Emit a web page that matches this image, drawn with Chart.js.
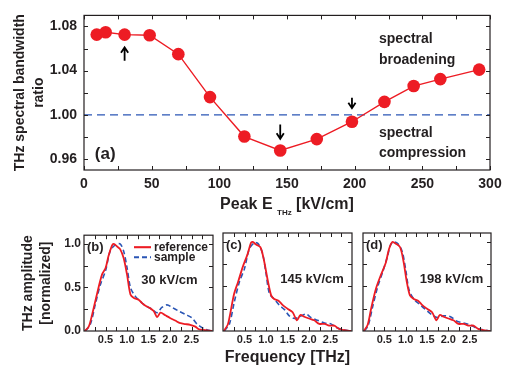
<!DOCTYPE html>
<html>
<head>
<meta charset="utf-8">
<script src="https://cdn.jsdelivr.net/npm/chart.js@4.4.1/dist/chart.umd.min.js"></script>
<style>
  html, body { margin: 0; padding: 0; background: #fff; }
  #wrap { position: relative; width: 510px; height: 368px; overflow: hidden; }
  canvas { position: absolute; }
</style>
</head>
<body>
<div id="wrap">
  <canvas id="ratioChart" width="510" height="222" style="left:0;top:0"></canvas>
  <canvas id="panelB" width="215" height="143" style="left:0;top:225px"></canvas>
  <canvas id="panelC" width="140" height="143" style="left:215px;top:225px"></canvas>
  <canvas id="panelD" width="155" height="143" style="left:355px;top:225px"></canvas>
</div>
<script>
// ---- panel (a): bandwidth ratio vs peak field ----
const fieldKV = [9.4, 16, 30, 48.5, 69.7, 93.1, 118.5, 145, 172, 198, 222, 243.6, 263.3, 292];
const bwRatio = [1.0726, 1.0748, 1.0726, 1.072, 1.0549, 1.016, 0.9803, 0.9677, 0.978, 0.9937, 1.0117, 1.026, 1.0323, 1.0409];
const unityX = [0, 300];
const unityY = 1.0;
const kvTicks = [0, 50, 100, 150, 200, 250, 300];
const kvMinor = [0, 25, 50, 75, 100, 125, 150, 175, 200, 225, 250, 275, 300];
const ratioTicks = [0.96, 1.00, 1.04, 1.08];
const ratioMinor = [0.96, 0.98, 1.00, 1.02, 1.04, 1.06, 1.08];
// arrows marking the fields shown in (b)-(d)
const arrowKV = [30, 145, 198];
const arrowTail = [1.0489, 0.9912, 1.0154];
const arrowHead = [1.0611, 0.9783, 1.0060];

// ---- panels (b)-(d): spectra ----
const refFreqB = [0.02, 0.11, 0.19, 0.30, 0.42, 0.50, 0.57, 0.65, 0.69, 0.77, 0.84, 0.92, 1.00, 1.08, 1.16, 1.27, 1.35, 1.43, 1.54, 1.62, 1.70, 1.78, 1.89, 2.00, 2.12, 2.24, 2.36, 2.47, 2.59, 2.67, 2.82, 2.98];
const refAmpB  = [0, 0.05, 0.19, 0.42, 0.65, 0.72, 0.86, 0.98, 1.0, 0.97, 0.94, 0.84, 0.65, 0.42, 0.38, 0.36, 0.32, 0.29, 0.26, 0.23, 0.16, 0.21, 0.18, 0.15, 0.12, 0.09, 0.08, 0.07, 0.05, 0.02, 0.01, 0];
const samFreqB = [0.03, 0.15, 0.26, 0.38, 0.50, 0.61, 0.73, 0.84, 0.92, 1.00, 1.08, 1.19, 1.31, 1.43, 1.58, 1.70, 1.81, 1.93, 2.05, 2.20, 2.36, 2.51, 2.63, 2.82, 2.98];
const samAmpB  = [0, 0.08, 0.30, 0.53, 0.69, 0.92, 0.99, 1.0, 0.92, 0.73, 0.50, 0.40, 0.34, 0.29, 0.25, 0.21, 0.27, 0.30, 0.27, 0.23, 0.19, 0.15, 0.08, 0.02, 0];

const refFreqC = [0.02, 0.11, 0.15, 0.26, 0.35, 0.46, 0.57, 0.65, 0.69, 0.77, 0.87, 0.95, 1.04, 1.12, 1.19, 1.29, 1.39, 1.50, 1.62, 1.72, 1.80, 1.89, 2.00, 2.12, 2.24, 2.36, 2.47, 2.59, 2.71, 2.98];
const refAmpC  = [0, 0.07, 0.15, 0.42, 0.55, 0.72, 0.86, 0.99, 1.0, 0.97, 0.94, 0.80, 0.57, 0.40, 0.36, 0.34, 0.29, 0.25, 0.21, 0.12, 0.18, 0.16, 0.14, 0.12, 0.08, 0.08, 0.06, 0.06, 0.02, 0];
const samFreqC = [0.03, 0.15, 0.26, 0.38, 0.50, 0.61, 0.73, 0.82, 0.92, 1.00, 1.08, 1.19, 1.31, 1.43, 1.54, 1.66, 1.78, 1.93, 2.05, 2.20, 2.36, 2.51, 2.63, 2.82, 2.98];
const samAmpC  = [0, 0.08, 0.32, 0.55, 0.70, 0.92, 0.99, 0.98, 0.87, 0.65, 0.42, 0.36, 0.29, 0.24, 0.17, 0.14, 0.16, 0.19, 0.15, 0.12, 0.09, 0.08, 0.04, 0.01, 0];

const refFreqD = [0.02, 0.11, 0.19, 0.30, 0.42, 0.53, 0.61, 0.69, 0.77, 0.87, 0.95, 1.02, 1.10, 1.19, 1.29, 1.39, 1.50, 1.62, 1.72, 1.80, 1.89, 2.00, 2.12, 2.24, 2.36, 2.47, 2.59, 2.71, 2.98];
const refAmpD  = [0, 0.07, 0.25, 0.47, 0.63, 0.76, 0.92, 1.0, 0.98, 0.94, 0.78, 0.57, 0.40, 0.36, 0.34, 0.29, 0.25, 0.21, 0.12, 0.18, 0.16, 0.14, 0.12, 0.08, 0.08, 0.06, 0.06, 0.02, 0];
const samFreqD = [0.03, 0.12, 0.22, 0.34, 0.46, 0.57, 0.65, 0.73, 0.82, 0.92, 1.00, 1.08, 1.19, 1.35, 1.47, 1.62, 1.74, 1.89, 2.05, 2.20, 2.36, 2.51, 2.67, 2.98];
const samAmpD  = [0, 0.06, 0.26, 0.49, 0.66, 0.83, 0.97, 1.0, 0.98, 0.89, 0.69, 0.46, 0.36, 0.29, 0.24, 0.18, 0.15, 0.17, 0.16, 0.11, 0.09, 0.07, 0.03, 0];

const freqTicks = [0.5, 1.0, 1.5, 2.0, 2.5];
const freqMinor = [0.25, 0.5, 0.75, 1.0, 1.25, 1.5, 1.75, 2.0, 2.25, 2.5, 2.75];
const ampTicks = [0, 0.5, 1.0];
const ampMinor = [0.25, 0.5, 0.75, 1.0];

const RED = '#ed1c24';
const BLUE = '#2b56b5';
const INK = '#231f20';
const FONT = "'Liberation Sans', Arial, Helvetica, sans-serif";

const pts = (xs, ys) => xs.map((x, i) => ({ x: x, y: ys[i] }));
const setTicks = vals => scale => { scale.ticks = vals.map(v => ({ value: v })); };

// box around the plot area with inward ticks on all four sides
const framePlugin = {
  id: 'frame',
  afterDatasetsDraw(chart, args, opts) {
    const { ctx, chartArea: a, scales: { x, y } } = chart;
    const len = 4;
    ctx.save();
    ctx.strokeStyle = INK;
    ctx.lineWidth = 1;
    ctx.beginPath();
    (opts.xTicks || []).forEach(v => {
      const px = Math.round(x.getPixelForValue(v)) + 0.5;
      ctx.moveTo(px, a.bottom); ctx.lineTo(px, a.bottom - len);
      ctx.moveTo(px, a.top); ctx.lineTo(px, a.top + len);
    });
    (opts.yTicks || []).forEach(v => {
      const py = Math.round(y.getPixelForValue(v)) + 0.5;
      ctx.moveTo(a.left, py); ctx.lineTo(a.left + len, py);
      ctx.moveTo(a.right, py); ctx.lineTo(a.right - len, py);
    });
    ctx.stroke();
    ctx.lineWidth = 1.2;
    ctx.strokeRect(a.left, a.top, a.right - a.left, a.bottom - a.top);
    ctx.restore();
  }
};

// text notes and arrows placed in data coordinates
const notesPlugin = {
  id: 'notes',
  afterDatasetsDraw(chart, args, opts) {
    const { ctx, scales: { x, y } } = chart;
    ctx.save();
    ctx.fillStyle = INK;
    ctx.textBaseline = 'middle';
    ctx.textAlign = 'left';
    (opts.texts || []).forEach(t => {
      ctx.font = 'bold ' + t.size + 'px ' + FONT;
      ctx.fillText(t.text, x.getPixelForValue(t.x), y.getPixelForValue(t.y));
    });
    const arr = opts.arrows;
    if (arr) {
      ctx.strokeStyle = '#000';
      ctx.lineWidth = 1.8;
      arr.x.forEach((v, i) => {
        const px = x.getPixelForValue(v);
        const y0 = y.getPixelForValue(arr.from[i]);
        const y1 = y.getPixelForValue(arr.to[i]);
        const dir = y1 < y0 ? 1 : -1;
        ctx.beginPath();
        ctx.moveTo(px, y0); ctx.lineTo(px, y1);
        ctx.moveTo(px - 3.6, y1 + dir * 5.5); ctx.lineTo(px, y1); ctx.lineTo(px + 3.6, y1 + dir * 5.5);
        ctx.stroke();
      });
    }
    ctx.restore();
  }
};

// x title of panel (a) with a subscript
const fieldTitlePlugin = {
  id: 'fieldTitle',
  afterDraw(chart) {
    const { ctx, chartArea: a } = chart;
    const big = 'bold 16px ' + FONT, small = 'bold 8px ' + FONT;
    const p1 = 'Peak E ', p2 = 'THz', p3 = ' [kV/cm]';
    ctx.save();
    ctx.font = big; const w1 = ctx.measureText(p1).width, w3 = ctx.measureText(p3).width;
    ctx.font = small; const w2 = ctx.measureText(p2).width;
    let x0 = (a.left + a.right) / 2 - (w1 + w2 + w3) / 2;
    const base = 208.5;
    ctx.fillStyle = INK;
    ctx.textBaseline = 'alphabetic';
    ctx.font = big; ctx.fillText(p1, x0, base);
    ctx.font = small; ctx.fillText(p2, x0 + w1, base + 6);
    ctx.font = big; ctx.fillText(p3, x0 + w1 + w2, base);
    ctx.restore();
  }
};

// small legend inside panel (b)
const legendPlugin = {
  id: 'innerLegend',
  afterDatasetsDraw(chart, args, opts) {
    if (!opts.show) return;
    const { ctx, chartArea: a } = chart;
    ctx.save();
    ctx.font = 'bold 12px ' + FONT;
    ctx.textBaseline = 'middle';
    chart.data.datasets.forEach((ds, i) => {
      const yy = a.top + 12 + i * 10;
      const x0 = a.left + 50;
      ctx.strokeStyle = ds.borderColor;
      ctx.lineWidth = ds.borderWidth + 0.3;
      ctx.setLineDash(ds.borderDash || []);
      ctx.beginPath(); ctx.moveTo(x0, yy); ctx.lineTo(x0 + 17, yy); ctx.stroke();
      ctx.setLineDash([]);
      ctx.fillStyle = INK;
      ctx.fillText(ds.label, x0 + 20, yy);
    });
    ctx.restore();
  }
};

Chart.defaults.font.family = FONT;
Chart.defaults.color = INK;

new Chart(document.getElementById('ratioChart'), {
  type: 'line',
  data: {
    datasets: [
      {
        label: 'ratio',
        data: pts(fieldKV, bwRatio),
        borderColor: RED, backgroundColor: RED,
        borderWidth: 1.4, pointRadius: 6.3, pointHoverRadius: 6.3, pointBorderWidth: 0,
        tension: 0
      },
      {
        label: 'unity',
        data: pts(unityX, unityX.map(() => unityY)),
        borderColor: BLUE, borderWidth: 1.3, borderDash: [8, 5], pointRadius: 0
      }
    ]
  },
  options: {
    responsive: false, animation: false,
    layout: { padding: { top: 8, right: 20, left: 0, bottom: 0 } },
    plugins: {
      legend: { display: false }, tooltip: { enabled: false },
      frame: { xTicks: kvMinor, yTicks: ratioMinor },
      notes: {
        texts: [
          { text: 'spectral', x: 218, y: 1.0688, size: 14 },
          { text: 'broadening', x: 218, y: 1.0497, size: 14 },
          { text: 'spectral', x: 218, y: 0.9837, size: 14 },
          { text: 'compression', x: 218, y: 0.9649, size: 14 },
          { text: '(a)', x: 8, y: 0.9645, size: 17 }
        ],
        arrows: { x: arrowKV, from: arrowTail, to: arrowHead }
      }
    },
    scales: {
      x: {
        type: 'linear', min: 0, max: 300,
        afterBuildTicks: setTicks(kvTicks),
        afterFit: s => { s.height = 52; },
        grid: { display: false, drawTicks: false }, border: { display: false },
        ticks: { font: { size: 14, weight: 'bold' }, padding: 6, maxRotation: 0 }
      },
      y: {
        min: 0.95, max: 1.09,
        afterBuildTicks: setTicks(ratioTicks),
        afterFit: s => { s.width = 84; },
        grid: { display: false, drawTicks: false }, border: { display: false },
        ticks: { font: { size: 14, weight: 'bold' }, padding: 7, callback: v => v.toFixed(2) },
        title: {
          display: true, text: ['THz spectral bandwidth', 'ratio'],
          font: { size: 14, weight: 'bold', lineHeight: 1.36 }, padding: { top: 10.5, bottom: 0 }
        }
      }
    }
  },
  plugins: [framePlugin, notesPlugin, fieldTitlePlugin]
});

function makePanel(id, ref, sam, o) {
  return new Chart(document.getElementById(id), {
    type: 'line',
    data: {
      datasets: [
        { label: 'reference', data: ref, borderColor: RED, borderWidth: 1.8, pointRadius: 0, tension: 0.3 },
        { label: 'sample', data: sam, borderColor: BLUE, borderWidth: 1.6, borderDash: [5, 3], pointRadius: 0, tension: 0.3 }
      ]
    },
    options: {
      responsive: false, animation: false,
      layout: { padding: { top: 8, right: o.padRight, left: 0, bottom: 0 } },
      plugins: {
        legend: { display: false }, tooltip: { enabled: false },
        frame: { xTicks: freqMinor, yTicks: ampMinor },
        notes: { texts: [
          { text: o.tag, x: 0.07, y: 0.965, size: 13 },
          { text: o.field, x: 1.33, y: 0.58, size: 13 }
        ] },
        innerLegend: { show: !!o.legend }
      },
      scales: {
        x: {
          type: 'linear', min: 0, max: 3.0,
          afterBuildTicks: setTicks(freqTicks),
          afterFit: s => { s.height = 37; },
          grid: { display: false, drawTicks: false }, border: { display: false },
          ticks: { font: { size: 11, weight: 'bold' }, padding: 2, maxRotation: 0, callback: v => v.toFixed(1) },
          title: {
            display: !!o.xTitle, text: 'Frequency [THz]',
            font: { size: 16, weight: 'bold', lineHeight: 1.2 }, padding: { top: 0, bottom: 0.5 }
          }
        },
        y: {
          min: 0, max: 1.1,
          afterBuildTicks: setTicks(ampTicks),
          afterFit: s => { s.width = o.yWidth; },
          grid: { display: false, drawTicks: false }, border: { display: false },
          ticks: { display: !!o.yLabels, font: { size: 12, weight: 'bold' }, padding: 3, callback: v => v.toFixed(1) },
          title: {
            display: !!o.yLabels, text: ['THz amplitude', '[normalized]'],
            font: { size: 14, weight: 'bold', lineHeight: 1.25 }, padding: { top: 19.5, bottom: 0 }
          }
        }
      }
    },
    plugins: [framePlugin, notesPlugin, legendPlugin]
  });
}

makePanel('panelB', pts(refFreqB, refAmpB), pts(samFreqB, samAmpB),
  { tag: '(b)', field: '30 kV/cm', padRight: 2, yWidth: 84, yLabels: true, legend: true });
makePanel('panelC', pts(refFreqC, refAmpC), pts(samFreqC, samAmpC),
  { tag: '(c)', field: '145 kV/cm', padRight: 3, yWidth: 8, xTitle: true });
makePanel('panelD', pts(refFreqD, refAmpD), pts(samFreqD, samAmpD),
  { tag: '(d)', field: '198 kV/cm', padRight: 19, yWidth: 8 });
</script>
</body>
</html>
